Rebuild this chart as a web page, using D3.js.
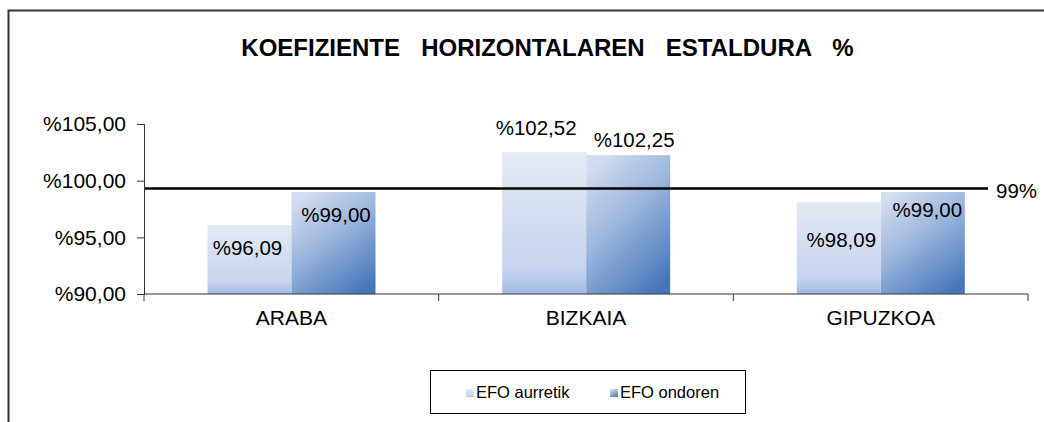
<!DOCTYPE html>
<html>
<head>
<meta charset="utf-8">
<script src="https://cdn.jsdelivr.net/npm/d3@7"></script>
<style>
  body { margin: 0; background: #fff; }
  svg { display: block; font-family: "Liberation Sans", Arial, sans-serif; }
</style>
</head>
<body>
<div id="chart"></div>
<script>
// data
var categories = ["ARABA", "BIZKAIA", "GIPUZKOA"];
var seriesNames = ["EFO aurretik", "EFO ondoren"];
var before = [96.09, 102.52, 98.09];
var after = [99.00, 102.25, 99.00];
var yTicks = [90, 95, 100, 105];
var refValue = 99.3;
var refLabel = "99%";
var title = "KOEFIZIENTE HORIZONTALAREN ESTALDURA %";

var width = 1044, height = 422;
var fmt = function (v) { return "%" + v.toFixed(2).replace(".", ","); };

var svg = d3.select("#chart")
  .append("svg")
  .attr("width", width)
  .attr("height", height);

// gradients
var defs = svg.append("defs");
var g1 = defs.append("linearGradient").attr("id", "gLight")
  .attr("x1", 0).attr("y1", 0).attr("x2", 0).attr("y2", 1);
[[0, "#e3e9f5"], [0.82, "#c7d4ee"], [0.9, "#b7c9ec"], [1, "#9fb7e6"]].forEach(function (s) {
  g1.append("stop").attr("offset", s[0]).attr("stop-color", s[1]);
});
var g2 = defs.append("linearGradient").attr("id", "gDark")
  .attr("x1", 0.2).attr("y1", 0).attr("x2", 0.8).attr("y2", 1);
[[0, "#d2ddef"], [0.45, "#9ab4dc"], [1, "#4677ba"]].forEach(function (s) {
  g2.append("stop").attr("offset", s[0]).attr("stop-color", s[1]);
});

// outer frame
svg.append("rect")
  .attr("x", 8.5).attr("y", 10.5)
  .attr("width", 1100).attr("height", 500)
  .attr("fill", "none")
  .attr("stroke", "#333")
  .attr("stroke-width", 2);

// title
svg.append("text")
  .attr("x", 547.5).attr("y", 56)
  .attr("text-anchor", "middle")
  .attr("font-weight", "bold")
  .attr("font-size", 24)
  .style("word-spacing", "14.5px")
  .text(title);

// scales
var x = d3.scaleBand().domain(categories).range([144, 1028]).padding(0);
var xs = d3.scaleBand().domain(seriesNames).range([63.5, 231.5]).padding(0);
var y = d3.scaleLinear().domain([90, 105]).range([294, 124]);

// y axis
var yAxis = svg.append("g")
  .attr("transform", "translate(144,0)")
  .call(d3.axisLeft(y).tickValues(yTicks).tickSize(7).tickPadding(11).tickFormat(fmt));
yAxis.selectAll("text").attr("font-size", 21).attr("fill", "#000").style("font-family", "Liberation Sans, Arial, sans-serif");
yAxis.selectAll("line, path").attr("stroke", "#333");

// bars
var rows = categories.map(function (c, i) {
  return [{ cat: c, s: seriesNames[0], v: before[i], i: i }, { cat: c, s: seriesNames[1], v: after[i], i: i }];
});
var fills = { "EFO aurretik": "url(#gLight)", "EFO ondoren": "url(#gDark)" };

svg.append("g").selectAll("rect")
  .data(rows.flat())
  .enter()
  .append("rect")
  .attr("x", function (d) { return x(d.cat) + xs(d.s); })
  .attr("y", function (d) { return y(d.v); })
  .attr("width", xs.bandwidth())
  .attr("height", function (d) { return y(90) - y(d.v); })
  .attr("fill", function (d) { return fills[d.s]; });

// x axis
var xAxis = svg.append("g")
  .attr("transform", "translate(0,294)")
  .call(d3.axisBottom(x).tickSize(0).tickPadding(16));
xAxis.select("path").attr("stroke", "#333").attr("d", "M144,0H1028");
xAxis.selectAll("text").attr("font-size", 21).attr("fill", "#000").style("font-family", "Liberation Sans, Arial, sans-serif");
svg.append("g").selectAll("line")
  .data(categories.concat([null]))
  .enter()
  .append("line")
  .attr("x1", function (d, i) { return i < 3 ? x(d) : x.range()[1]; })
  .attr("x2", function (d, i) { return i < 3 ? x(d) : x.range()[1]; })
  .attr("y1", 294).attr("y2", 301)
  .attr("stroke", "#333");

// reference line
svg.append("line")
  .attr("x1", 145).attr("x2", 988)
  .attr("y1", y(refValue)).attr("y2", y(refValue))
  .attr("stroke", "#000").attr("stroke-width", 2.5);
svg.append("text")
  .attr("x", 996).attr("y", y(refValue) + 9)
  .attr("font-size", 20.5)
  .text(refLabel);

// data labels (manual nudges, like the original)
var nudge = {
  "EFO aurretik": [[-2, 30.5], [-8, -17], [2.5, 44.5]],
  "EFO ondoren": [[2.5, 29.7], [6, -8.5], [4.5, 25.3]]
};
svg.append("g").selectAll("text")
  .data(rows.flat())
  .enter()
  .append("text")
  .attr("x", function (d) { return x(d.cat) + xs(d.s) + xs.bandwidth() / 2 + nudge[d.s][d.i][0]; })
  .attr("y", function (d) { return y(d.v) + nudge[d.s][d.i][1]; })
  .attr("text-anchor", "middle")
  .attr("font-size", 20.5)
  .text(function (d) { return fmt(d.v); });

// legend
var lg = svg.append("g");
lg.append("rect")
  .attr("x", 430.5).attr("y", 370.5)
  .attr("width", 315).attr("height", 43)
  .attr("fill", "#fff").attr("stroke", "#000");
var legX = [466, 610];
seriesNames.forEach(function (s, i) {
  lg.append("rect")
    .attr("x", legX[i]).attr("y", 389)
    .attr("width", 8).attr("height", 8)
    .attr("fill", fills[s]);
  lg.append("text")
    .attr("x", legX[i] + 10).attr("y", 398)
    .attr("font-size", 16.5)
    .text(s);
});
</script>
</body>
</html>
